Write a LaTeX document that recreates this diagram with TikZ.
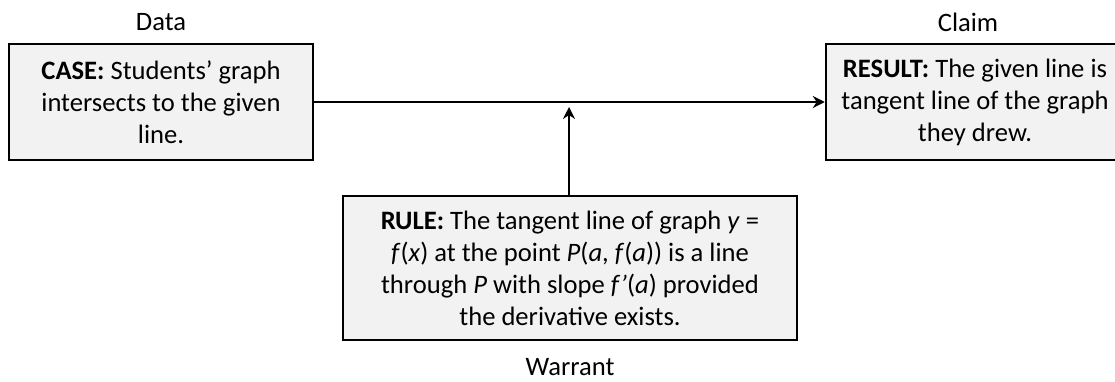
\documentclass[tikz,border=0pt]{standalone}
\usepackage{fontspec}
\setmainfont{Carlito}
\usetikzlibrary{arrows.meta}
\definecolor{boxfill}{HTML}{F2F2F2}
\begin{document}
\begin{tikzpicture}[x=1pt,y=-1pt,
  every node/.style={font=\fontsize{26.6}{32}\selectfont, inner sep=0pt},
  argbox/.style={draw=black, line width=2.5pt, fill=boxfill, align=center},
  lbl/.style={anchor=center},
  conn/.style={line width=2.5pt, -{Stealth[length=12pt,width=12pt,inset=4pt]}}]
\useasboundingbox (0,0) rectangle (1115,381);
\clip (0,0) rectangle (1115,381);
\node[argbox, minimum width=304pt, minimum height=116pt] (case) at (161,102)
  {\textbf{CASE:} Students’ graph\\intersects to the given\\line.};
\node[argbox, minimum width=298pt, minimum height=116pt] (result) at (975,102)
  {\textbf{RESULT:} The given line is\\tangent line of the graph\\they drew.};
\node[argbox, minimum width=454pt, minimum height=144pt] (rule) at (570,268)
  {\textbf{RULE:} The tangent line of graph \textit{y} =\\
   \textit{f}(\textit{x}) at the point \textit{P}(\textit{a}, \textit{f}(\textit{a})) is a line\\
   through \textit{P} with slope \textit{f’}(\textit{a}) provided\\
   the derivative exists.};
\node[lbl] (data) at (161,22) {Data};
\node[lbl] (claim) at (968,22) {Claim};
\node[lbl] (warrant) at (570,367) {Warrant};
\coordinate (tip) at (569,107);
\draw[conn] (case.east) -- (result.west);
\draw[conn] (rule.north -| tip) -- (tip);
\end{tikzpicture}
\end{document}
